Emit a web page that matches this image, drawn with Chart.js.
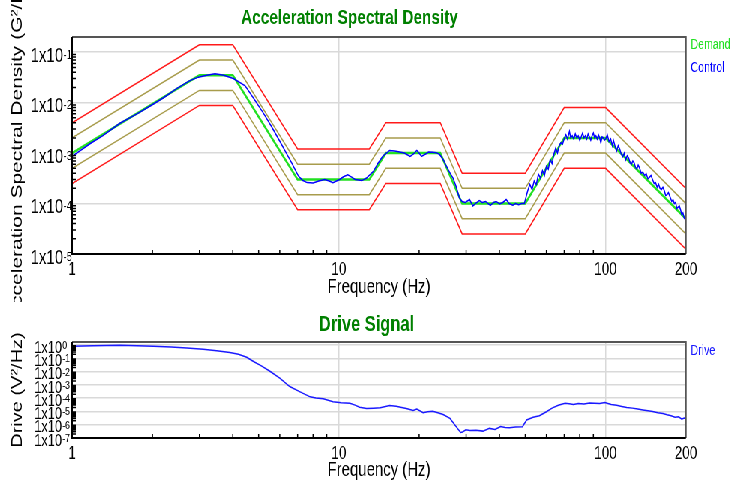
<!DOCTYPE html>
<html>
<head>
<meta charset="utf-8">
<script src="https://cdn.jsdelivr.net/npm/chart.js@4.4.1/dist/chart.umd.min.js"></script>
<style>
  html, body { margin: 0; padding: 0; background: #fff; overflow: hidden; }
  /* the original picture is squeezed sideways, so draw wide and squeeze */
  #wrap { position: absolute; left: 0; top: 0; width: 975px; height: 484px; transform: scaleX(0.75); transform-origin: 0 0; }
  #asd { position: absolute; left: 0; top: 0; }
  #drive { position: absolute; left: 0; top: 302px; }
</style>
</head>
<body>
<div id="wrap">
  <canvas id="asd" width="975" height="302"></canvas>
  <canvas id="drive" width="975" height="182"></canvas>
</div>
<script>
// x axis
const xTicks = [1, 10, 100, 200];
const xTickLabels = ['1', '10', '100', '200'];

// y axes (decades + exponent text)
const asdTicks = [1e-5, 1e-4, 1e-3, 1e-2, 1e-1];
const asdExps = ['-5', '-4', '-3', '-2', '-1'];
const driveTicks = [1e-7, 1e-6, 1e-5, 1e-4, 1e-3, 1e-2, 1e-1, 1];
const driveExps = ['-7', '-6', '-5', '-4', '-3', '-2', '-1', '0'];

// demand profile and tolerance lines (same breakpoints)
const demandFreq = [1, 3, 4, 7, 13, 15, 24, 29, 50, 70, 100, 200];
const demandVal = [1e-3, 0.035, 0.035, 3e-4, 3e-4, 1e-3, 1e-3, 1e-4, 1e-4, 2e-3, 2e-3, 5e-5];
const abortHighVal = [4e-3, 0.14, 0.14, 1.2e-3, 1.2e-3, 4e-3, 4e-3, 4e-4, 4e-4, 8e-3, 8e-3, 2e-4];
const alarmHighVal = [2e-3, 0.07, 0.07, 6e-4, 6e-4, 2e-3, 2e-3, 2e-4, 2e-4, 4e-3, 4e-3, 1e-4];
const alarmLowVal = [5e-4, 0.0175, 0.0175, 1.5e-4, 1.5e-4, 5e-4, 5e-4, 5e-5, 5e-5, 1e-3, 1e-3, 2.5e-5];
const abortLowVal = [2.5e-4, 8.8e-3, 8.8e-3, 7.5e-5, 7.5e-5, 2.5e-4, 2.5e-4, 2.5e-5, 2.5e-5, 5e-4, 5e-4, 1.25e-5];

// measured control spectrum
const controlFreq = [1, 1.17, 1.3, 1.51, 1.75, 1.99, 2.2, 2.47, 2.75, 2.97, 3.2, 3.43, 3.7, 4.02, 4.45, 4.8, 5.21, 5.6, 6.01, 6.35, 6.65, 7.05, 7.3, 7.6, 8.0, 8.4, 8.85, 9.2, 9.5, 10.06, 10.4, 10.8, 11.2, 11.5, 12.2, 12.7, 13.5, 14.0, 14.6, 15.5, 16.2, 16.9, 17.6, 18.5, 19.0, 19.6, 20.0, 20.4, 21.0, 21.7, 22.5, 23.2, 23.9, 24.6, 25.3, 26.0, 26.8, 27.5, 28.3, 29.0, 29.8, 30.9, 31.8, 32.5, 33.6, 34.5, 35.5, 36.3, 37.0, 38.0, 38.9, 40.0, 41.2, 42.4, 43.5, 44.9, 46.0, 47.2, 48.5, 49.6,
  51, 52, 53, 54, 55, 56, 57, 58, 59, 60, 61, 62, 63, 64, 65, 66, 67, 68, 69,
  70, 71, 72, 73.2, 74, 75, 76, 77, 78, 79, 80, 81, 82, 83, 84, 85, 86, 87, 88, 89, 90, 91, 92, 93, 94, 95, 96, 97, 98, 99,
  100, 101.5, 103, 104.5, 106, 107, 108, 109, 110, 111.5, 113, 114.5, 116, 117.5, 119, 120.5, 122, 123.5, 125, 126.5, 128, 129.5, 131, 132.5, 134, 136, 138, 140, 142, 144, 146, 148, 150, 152, 154, 156, 158, 160, 162, 164, 166, 168, 170, 172, 175, 177, 179, 181, 183, 185, 187, 189, 191, 193, 195, 197, 198, 199, 200];
const controlVal = [8.6e-4, 1.55e-3, 2.2e-3, 3.9e-3, 6.0e-3, 9.0e-3, 1.25e-2, 1.92e-2, 2.7e-2, 3.2e-2, 3.5e-2, 3.75e-2, 3.5e-2, 3.0e-2, 2.15e-2, 1.2e-2, 6.2e-3, 3.3e-3, 1.7e-3, 1.0e-3, 6.4e-4, 3.5e-4, 2.9e-4, 2.6e-4, 2.55e-4, 2.8e-4, 3.0e-4, 2.8e-4, 2.6e-4, 3.0e-4, 3.4e-4, 3.7e-4, 3.3e-4, 3.0e-4, 2.85e-4, 3.2e-4, 4.4e-4, 6.2e-4, 8.6e-4, 1.13e-3, 1.1e-3, 1.05e-3, 1.0e-3, 8.6e-4, 9.5e-4, 1.13e-3, 1.0e-3, 8.6e-4, 9.4e-4, 1.05e-3, 1.04e-3, 1.02e-3, 9.3e-4, 7.5e-4, 5.5e-4, 4.2e-4, 3.2e-4, 2.2e-4, 1.3e-4, 1.1e-4, 1.05e-4, 1.2e-4, 9.0e-5, 1.0e-4, 1.15e-4, 1.05e-4, 1.1e-4, 1.0e-4, 9.2e-5, 1.05e-4, 1.1e-4, 9.8e-5, 1.05e-4, 1.2e-4, 1.0e-4, 9.3e-5, 1.0e-4, 9.5e-5, 1.0e-4, 1.0e-4,
  1.76e-4, 2.4e-4, 1.9e-4, 2.8e-4, 2.4e-4, 3.8e-4, 3.2e-4, 4.5e-4, 3.6e-4, 5.5e-4, 4.8e-4, 7.5e-4, 6.2e-4, 9.5e-4, 1.25e-3, 1.0e-3, 1.4e-3, 1.6e-3, 1.5e-3,
  1.97e-3, 2.3e-3, 1.9e-3, 2.7e-3, 2.0e-3, 2.2e-3, 1.9e-3, 2.4e-3, 2.0e-3, 2.2e-3, 1.8e-3, 2.1e-3, 2.5e-3, 2.0e-3, 2.2e-3, 1.9e-3, 2.4e-3, 2.1e-3, 1.8e-3, 2.2e-3, 2.5e-3, 2.0e-3, 2.2e-3, 1.9e-3, 2.3e-3, 2.0e-3, 1.6e-3, 2.1e-3, 2.0e-3, 1.8e-3,
  1.9e-3, 2.3e-3, 1.7e-3, 1.9e-3, 1.4e-3, 1.8e-3, 1.5e-3, 1.25e-3, 1.1e-3, 1.4e-3, 1.2e-3, 9.5e-4, 8.5e-4, 1.0e-3, 7.4e-4, 8.8e-4, 8.0e-4, 6.5e-4, 6.0e-4, 7.0e-4, 6.4e-4, 5.2e-4, 4.8e-4, 5.8e-4, 5.1e-4, 4.0e-4, 4.2e-4, 3.6e-4, 3.9e-4, 3.1e-4, 3.3e-4, 3.6e-4, 3.0e-4, 2.5e-4, 2.6e-4, 2.1e-4, 2.4e-4, 2.0e-4, 1.9e-4, 2.1e-4, 1.8e-4, 1.45e-4, 1.5e-4, 1.65e-4, 1.3e-4, 1.1e-4, 1.2e-4, 1.0e-4, 1.05e-4, 8.0e-5, 8.5e-5, 9.0e-5, 7.5e-5, 6.0e-5, 6.5e-5, 5.2e-5, 5.0e-5, 6.0e-5, 5.6e-5];

// drive signal
const driveFreq = [1.0, 1.2, 1.51, 1.75, 2.02, 2.35, 2.69, 3.1, 3.48, 3.9, 4.2, 4.51, 4.8, 5.1, 5.51, 6.0, 6.54, 7.15, 7.8, 8.2, 8.74, 9.5, 10.2, 11.0, 11.5, 11.96, 12.7, 13.5, 14.3, 15.5, 16.4, 17.2, 17.9, 19.0, 19.6, 20.7, 21.5, 22.5, 23.5, 24.6, 26.1, 27.6, 28.6, 29.1, 29.9, 31.0, 32.7, 34.7, 36.7, 38.5, 40.4, 42, 43.6, 46, 48.8, 50.6, 53.5, 56.5, 60, 63, 66.5, 70.5, 73, 75.8, 79, 83, 87, 90.8, 95, 99.4, 102, 105, 110, 115, 120, 126, 132, 138, 144, 150, 157, 164, 170, 176, 182, 188, 193, 197, 200];
const driveVal = [0.8, 0.88, 0.95, 0.9, 0.8, 0.7, 0.6, 0.48, 0.37, 0.27, 0.2, 0.12, 0.055, 0.028, 0.0106, 3.2e-3, 7.5e-4, 3.0e-4, 1.26e-4, 1.05e-4, 8.9e-5, 5.3e-5, 4.6e-5, 4.2e-5, 3.0e-5, 2.1e-5, 1.66e-5, 1.75e-5, 1.9e-5, 2.8e-5, 2.5e-5, 2.0e-5, 1.66e-5, 1.18e-5, 1.5e-5, 7.9e-6, 9.5e-6, 1.05e-5, 8.0e-6, 5.9e-6, 3.0e-6, 6.7e-7, 2.6e-7, 2.8e-7, 4.2e-7, 3.6e-7, 3.8e-7, 3.3e-7, 5.3e-7, 4.4e-7, 7.4e-7, 6.2e-7, 6.0e-7, 6.8e-7, 7.0e-7, 2.3e-6, 3.6e-6, 4.7e-6, 9.5e-6, 1.78e-5, 2.9e-5, 4.2e-5, 3.8e-5, 3.3e-5, 3.9e-5, 3.6e-5, 4.3e-5, 4.2e-5, 4.0e-5, 4.7e-5, 4.0e-5, 3.3e-5, 2.9e-5, 2.4e-5, 2.0e-5, 1.78e-5, 1.5e-5, 1.3e-5, 1.15e-5, 1.0e-5, 8.0e-6, 7.0e-6, 5.6e-6, 4.7e-6, 3.6e-6, 3.9e-6, 2.6e-6, 3.2e-6, 2.9e-6];

Chart.defaults.font.family = "'Liberation Sans', Arial, sans-serif";

const pts = (fs, vs) => fs.map((f, i) => ({ x: f, y: vs[i] }));

// minor ticks, frame, y labels with exponents, legend text and title
function decor(o) {
  return {
    id: 'decor',
    afterDraw(chart) {
      const ctx = chart.ctx, a = chart.chartArea;
      const x = chart.scales.x, y = chart.scales.y;
      ctx.save();

      ctx.strokeStyle = '#000';
      ctx.lineWidth = 1.5;
      ctx.beginPath();
      [2, 3, 4, 5, 6, 7, 8, 9, 20, 30, 40, 50, 60, 70, 80, 90].forEach(f => {
        const px = x.getPixelForValue(f);
        ctx.moveTo(px, a.bottom);
        ctx.lineTo(px, a.bottom - 4);
      });
      o.yTicks.forEach(d => {
        for (let m = 2; m < 10; m++) {
          if (d * m > y.max) break;
          const py = y.getPixelForValue(d * m);
          ctx.moveTo(a.left, py);
          ctx.lineTo(a.left + 5, py);
        }
      });
      ctx.stroke();

      // frame
      ctx.lineWidth = 2;
      ctx.strokeStyle = '#555';
      ctx.beginPath();
      ctx.moveTo(a.left, a.top); ctx.lineTo(a.right, a.top); ctx.lineTo(a.right, a.bottom);
      ctx.stroke();
      ctx.strokeStyle = '#000';
      ctx.beginPath();
      ctx.moveTo(a.left, a.top); ctx.lineTo(a.left, a.bottom); ctx.lineTo(a.right, a.bottom);
      ctx.stroke();

      // y tick labels: 1x10 with raised exponent
      ctx.fillStyle = '#000';
      o.yTicks.forEach((v, i) => {
        const py = y.getPixelForValue(v);
        ctx.font = o.labSize + 'px ' + Chart.defaults.font.family;
        ctx.textAlign = 'right';
        ctx.textBaseline = 'middle';
        ctx.fillText('1x10', o.labX, py + o.labDy);
        ctx.font = o.expSize + 'px ' + Chart.defaults.font.family;
        ctx.textAlign = 'left';
        ctx.textBaseline = 'top';
        ctx.fillText(o.yExps[i], o.labX + 0.5, py + o.expDy);
      });

      // legend
      ctx.font = '14px ' + Chart.defaults.font.family;
      ctx.textAlign = 'left';
      ctx.textBaseline = 'middle';
      o.legend.forEach(l => {
        ctx.fillStyle = l.color;
        ctx.fillText(l.text, 921, l.y);
      });

      // title
      ctx.font = 'bold ' + o.title.size + 'px ' + Chart.defaults.font.family;
      ctx.textAlign = 'center';
      ctx.fillStyle = '#008000';
      ctx.fillText(o.title.text, o.title.x, o.title.y);

      ctx.restore();
    }
  };
}

function makeChart(id, o) {
  return new Chart(document.getElementById(id), {
    type: 'line',
    data: { datasets: o.datasets },
    options: {
      responsive: false,
      animation: false,
      devicePixelRatio: 1,
      layout: { padding: { top: o.top, right: 60.3, left: 0, bottom: 0 } },
      plugins: { legend: { display: false }, tooltip: { enabled: false } },
      elements: { point: { radius: 0 }, line: { tension: 0 } },
      scales: {
        x: {
          type: 'logarithmic', min: 1, max: 200,
          afterBuildTicks: s => { s.ticks = xTicks.map(v => ({ value: v })); },
          afterFit: s => { s.height = o.xh; },
          ticks: { callback: (v, i) => xTickLabels[i], font: { size: 18 }, color: '#000', padding: o.xpad, maxRotation: 0, autoSkip: false },
          grid: { color: '#d9d9d9', lineWidth: 1.5, drawTicks: false },
          border: { display: false },
          title: { display: true, text: 'Frequency (Hz)', font: { size: 20 }, color: '#000', padding: { top: 0, bottom: o.xtpad } }
        },
        y: {
          type: 'logarithmic', min: o.ymin, max: o.ymax,
          afterBuildTicks: s => { s.ticks = o.yTicks.map(v => ({ value: v })); },
          afterFit: s => { s.width = 96; },
          ticks: { display: false },
          grid: { color: '#d9d9d9', lineWidth: 1.5, drawTicks: false },
          border: { display: false },
          title: { display: true, text: o.ytitle, font: { size: o.ytSize }, color: '#000', padding: { top: 11, bottom: 0 } }
        }
      }
    },
    plugins: [decor(o)]
  });
}

makeChart('asd', {
  top: 37, xh: 48, xpad: 5, xtpad: 3,
  ymin: 1e-5, ymax: 0.2, yTicks: asdTicks, yExps: asdExps,
  ytitle: 'Acceleration Spectral Density (G²/Hz)', ytSize: 21,
  labX: 84, labSize: 20, labDy: 4, expSize: 12.5, expDy: -3,
  title: { text: 'Acceleration Spectral Density', x: 466, y: 18, size: 20.5 },
  legend: [{ text: 'Demand', color: '#22e022', y: 45 }, { text: 'Control', color: '#0000ff', y: 68 }],
  datasets: [
    { label: 'Control', data: pts(controlFreq, controlVal), borderColor: '#0000ff', borderWidth: 1.5, order: 0 },
    { label: 'Demand', data: pts(demandFreq, demandVal), borderColor: '#22e022', borderWidth: 2.5, order: 1 },
    { label: 'Alarm high', data: pts(demandFreq, alarmHighVal), borderColor: '#a89c4c', borderWidth: 1.5, order: 2 },
    { label: 'Alarm low', data: pts(demandFreq, alarmLowVal), borderColor: '#a89c4c', borderWidth: 1.5, order: 2 },
    { label: 'Abort high', data: pts(demandFreq, abortHighVal), borderColor: '#ff1a1a', borderWidth: 1.5, order: 3 },
    { label: 'Abort low', data: pts(demandFreq, abortLowVal), borderColor: '#ff1a1a', borderWidth: 1.5, order: 3 }
  ]
});

makeChart('drive', {
  top: 40, xh: 46, xpad: 5, xtpad: 2,
  ymin: 1e-7, ymax: 1.7, yTicks: driveTicks, yExps: driveExps,
  ytitle: 'Drive (V²/Hz)', ytSize: 20,
  labX: 82.5, labSize: 17, labDy: 3, expSize: 11.5, expDy: -5,
  title: { text: 'Drive Signal', x: 488.7, y: 23, size: 22 },
  legend: [{ text: 'Drive', color: '#1a1aff', y: 49 }],
  datasets: [
    { label: 'Drive', data: pts(driveFreq, driveVal), borderColor: '#1a1aff', borderWidth: 1.5 }
  ]
});
</script>
</body>
</html>
